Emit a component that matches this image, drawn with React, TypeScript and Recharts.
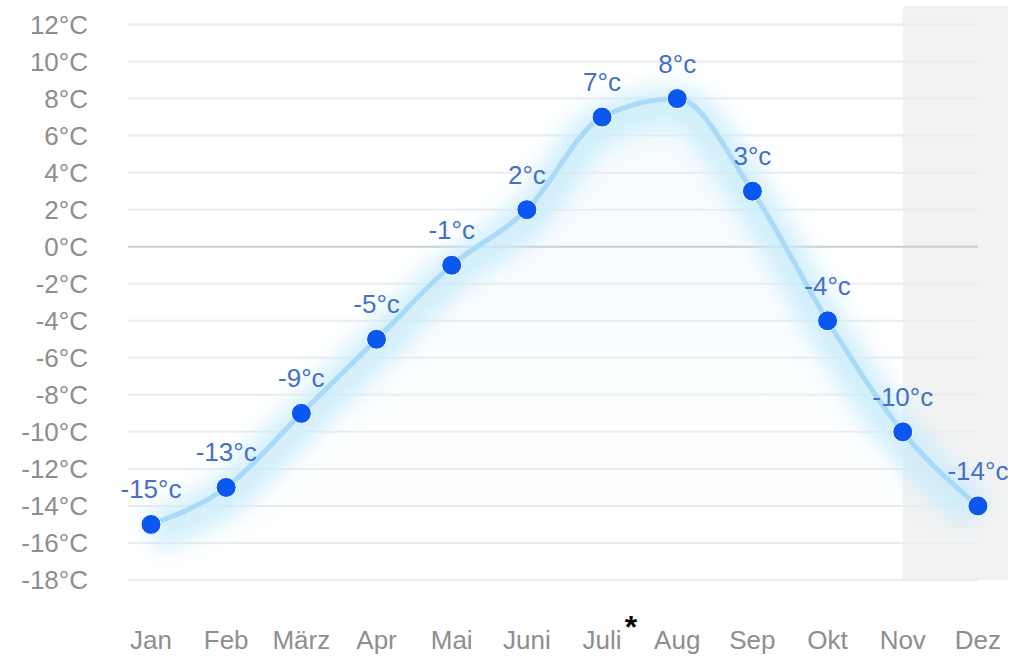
import { ComposedChart, Line, Area, XAxis, YAxis, ReferenceLine, ReferenceArea, LabelList } from 'recharts';

const months = ['Jan', 'Feb', 'März', 'Apr', 'Mai', 'Juni', 'Juli', 'Aug', 'Sep', 'Okt', 'Nov', 'Dez'];
const temps = [-15, -13, -9, -5, -1, 2, 7, 8, 3, -4, -10, -14];
const yTicks = [12, 10, 8, 6, 4, 2, 0, -2, -4, -6, -8, -10, -12, -14, -16, -18];
const markedMonth = 'Juli';

const data = months.map((m, i) => ({ idx: i, month: m, temp: temps[i] }));

const FONT = '"Liberation Sans", Arial, sans-serif';
const X_MIN = -0.306;
const X_MAX = 11.4;

function MonthTick(props: any) {
  const { x, y, payload } = props;
  const label = months[payload.value];
  return (
    <g transform={`translate(${x},${y})`}>
      <text x={0} y={0} dy="0.71em" textAnchor="middle" fill="#8e8e8e" fontSize={26} fontFamily={FONT}>
        {label}
      </text>
      {label === markedMonth && (
        <text x={29} y={-16} dy="0.71em" textAnchor="middle" fill="#000" fontSize={32} fontWeight="bold" fontFamily={FONT}>
          *
        </text>
      )}
    </g>
  );
}

export default function App() {
  return (
    <div style={{ position: 'absolute', left: 0, top: 0 }}>
      <ComposedChart width={1015} height={662} data={data} margin={{ top: 6, right: 7, bottom: 0, left: 0 }}>
        <defs>
          <filter id="glow" x="-20%" y="-30%" width="140%" height="160%">
            <feOffset dx="0" dy="8" />
            <feGaussianBlur stdDeviation="11" />
          </filter>
          <linearGradient id="haze" x1="0" y1="0" x2="0" y2="1">
            <stop offset="0%" stopColor="#c6e9fb" stopOpacity={0.3} />
            <stop offset="100%" stopColor="#c6e9fb" stopOpacity={0} />
          </linearGradient>
        </defs>
        <XAxis
          dataKey="idx"
          type="number"
          domain={[X_MIN, X_MAX]}
          ticks={months.map((_, i) => i)}
          tick={<MonthTick />}
          axisLine={false}
          tickLine={false}
          tickSize={0}
          tickMargin={51}
          height={82}
          interval={0}
        />
        <YAxis
          type="number"
          domain={[-18, 13]}
          ticks={yTicks}
          tickFormatter={(v: number) => `${v}°C`}
          tick={{ fill: '#8e8e8e', fontSize: 26, fontFamily: FONT }}
          axisLine={false}
          tickLine={false}
          tickSize={0}
          tickMargin={40}
          width={128}
          interval={0}
        />
        <ReferenceArea x1={10} x2={X_MAX} y1={-18} y2={13} fill="#f2f2f2" fillOpacity={1} stroke="none" />
        {yTicks.map((t) => (
          <ReferenceLine
            key={t}
            segment={[{ x: X_MIN, y: t }, { x: 11, y: t }]}
            stroke={t === 0 ? '#cccccc' : '#ececec'}
            strokeWidth={2}
          />
        ))}
        <Area
          dataKey="temp"
          type="monotone"
          baseValue={-18}
          stroke="none"
          fill="url(#haze)"
          isAnimationActive={false}
        />
        <Line
          dataKey="temp"
          type="monotone"
          stroke="#c9ecfc"
          strokeWidth={40}
          strokeOpacity={0.85}
          filter="url(#glow)"
          dot={false}
          activeDot={false}
          isAnimationActive={false}
        />
        <Line
          dataKey="temp"
          type="monotone"
          stroke="#a9daf7"
          strokeWidth={5}
          dot={{ r: 10, fill: '#0a58f0', stroke: '#ffffff', strokeWidth: 1 }}
          activeDot={false}
          isAnimationActive={false}
        >
          <LabelList
            dataKey="temp"
            position="top"
            offset={26}
            formatter={(v: any) => `${v}°c`}
            fill="#4470c8"
            fontSize={26}
            fontFamily={FONT}
          />
        </Line>
      </ComposedChart>
    </div>
  );
}
